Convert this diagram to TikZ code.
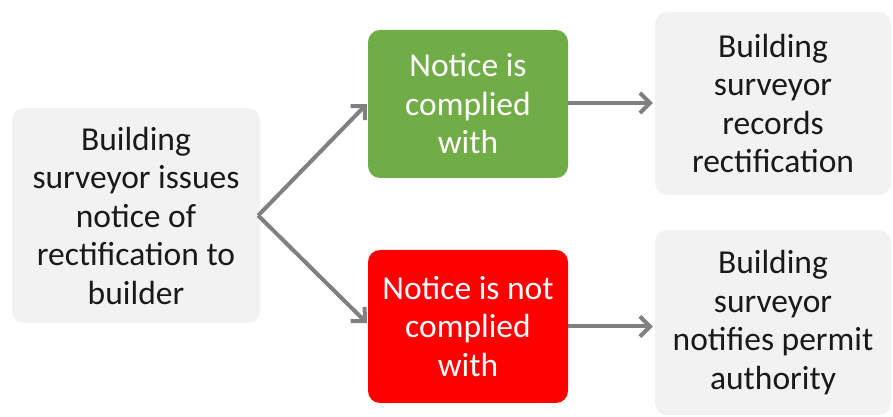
\documentclass[tikz,border=0pt]{standalone}
\usepackage{fontspec}
\setmainfont{Carlito}
\usetikzlibrary{arrows.meta}
\definecolor{boxgray}{HTML}{F2F2F2}
\definecolor{okgreen}{HTML}{70AD47}
\definecolor{badred}{HTML}{FF0000}
\definecolor{arrgray}{HTML}{808080}
\tikzset{
  box/.style={rounded corners=12pt, align=center, inner sep=0pt,
    font=\fontsize{33.5}{38.5}\selectfont},
  graybox/.style={box, fill=boxgray, text=black!90},
  greenbox/.style={box, fill=okgreen, text=white},
  redbox/.style={box, fill=badred, text=white},
  conn/.style={draw=arrgray, line width=4pt,
    -{Straight Barb[length=10pt, width=20pt, line width=4pt]}}
}
\begin{document}
\begin{tikzpicture}[x=1pt,y=1pt]
\useasboundingbox (0,0) rectangle (893,417);
\node[graybox, minimum width=248pt, minimum height=215pt] (issue) at (136,201.5)
  {Building\\surveyor issues\\notice of\\rectification to\\builder};
\node[greenbox, minimum width=200pt, minimum height=148pt] (ok) at (468,313)
  {Notice is\\complied\\with};
\node[redbox, minimum width=200pt, minimum height=153pt] (bad) at (468,90.5)
  {Notice is not\\complied\\with};
\node[graybox, minimum width=236pt, minimum height=183pt] (records) at (773,313.5)
  {Building\\surveyor\\records\\rectification};
\node[graybox, minimum width=236pt, minimum height=185pt] (notifies) at (773,94.5)
  {Building\\surveyor\\notifies permit\\authority};
\draw[conn] ([xshift=-2pt]issue.east) -- ([xshift=-1pt]ok.west);
\draw[conn] ([xshift=-2pt]issue.east) -- ([xshift=-1pt,yshift=3.5pt]bad.west);
\draw[conn] ([yshift=1pt]ok.east) -- ([yshift=1pt,xshift=-2pt]ok.east -| records.west);
\draw[conn] (bad.east) -- ([xshift=-2pt]bad.east -| notifies.west);
\end{tikzpicture}
\end{document}
